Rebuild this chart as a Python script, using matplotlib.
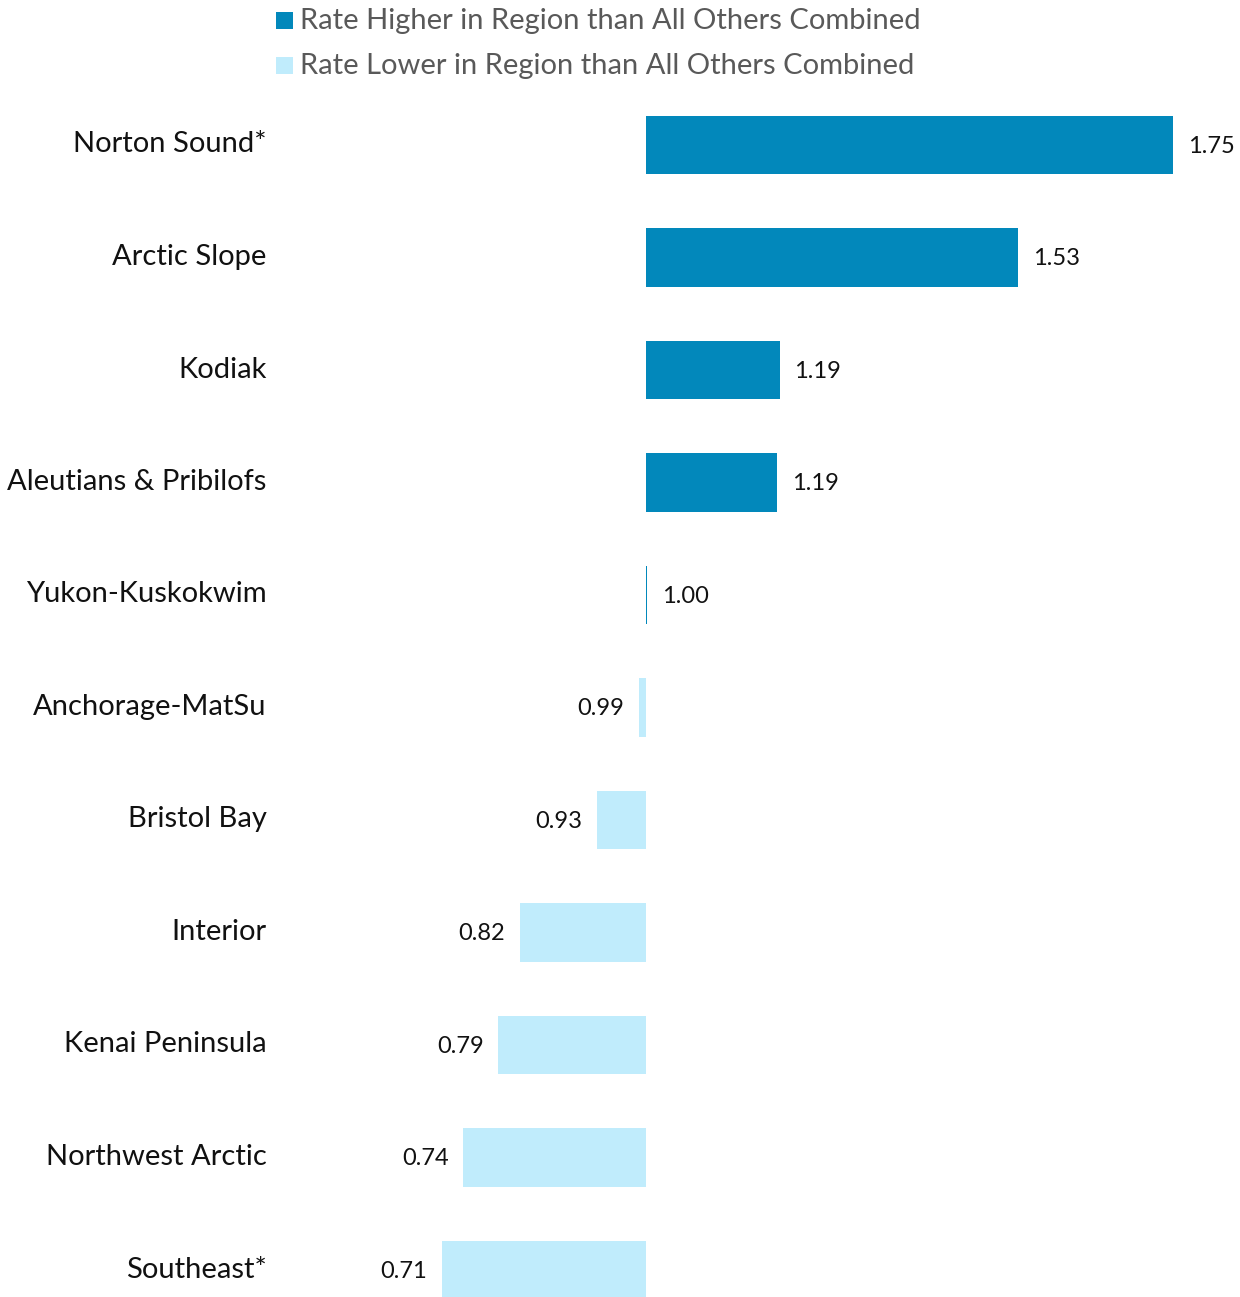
import matplotlib
matplotlib.use("Agg")
import matplotlib.pyplot as plt
import matplotlib.transforms as mtransforms
from matplotlib.patches import Rectangle

regions = ["Norton Sound*", "Arctic Slope", "Kodiak", "Aleutians & Pribilofs",
           "Yukon-Kuskokwim", "Anchorage-MatSu", "Bristol Bay", "Interior",
           "Kenai Peninsula", "Northwest Arctic", "Southeast*"]
values = [1.75, 1.53, 1.19, 1.19, 1.00, 0.99, 0.93, 0.82, 0.79, 0.74, 0.71]
drawn = [1.75, 1.53, 1.19, 1.187, 1.002, 0.99, 0.93, 0.82, 0.79, 0.74, 0.71]
labels = ["1.75", "1.53", "1.19", "1.19", "1.00", "0.99", "0.93", "0.82", "0.79", "0.74", "0.71"]
legend_labels = ["Rate Higher in Region than All Others Combined",
                 "Rate Lower in Region than All Others Combined"]

DARK = "#0288BB"
LIGHT = "#C0ECFC"
FONT = ["Lato", "DejaVu Sans"]

W, H = 1240, 1297
fig = plt.figure(figsize=(W/100, H/100), dpi=100)
top_px = 88.75
ax = fig.add_axes([280/W, 0, 960/W, (H-top_px)/H])

base = 1.0
for i, (v, d, lab) in enumerate(zip(values, drawn, labels)):
    col = DARK if v >= base else LIGHT
    ax.barh(i, d - base, left=base, height=0.516, color=col, linewidth=0)
    if v >= base:
        ax.text(d + 0.021, i + 0.01, lab, ha="left", va="center", fontsize=17,
                family=FONT, color="#111111")
    else:
        ax.text(d - 0.021, i + 0.01, lab, ha="right", va="center", fontsize=17,
                family=FONT, color="#111111")

ax.set_xlim(1.0 - 366/702.7, 1.0 + 594/702.7)
ax.set_ylim((H - 145)/112.5, -0.5)
ax.set_yticks(range(len(regions)))
ax.set_yticklabels(regions, family=FONT, fontsize=21, color="#111111")
ax.tick_params(axis="y", length=0, pad=9.5)
offset = mtransforms.ScaledTranslation(0, 3/100, fig.dpi_scale_trans)
for t in ax.get_yticklabels():
    t.set_transform(t.get_transform() + offset)
ax.set_xticks([])
for s in ax.spines.values():
    s.set_visible(False)

# legend
for k, (lab, col) in enumerate(zip(legend_labels, [DARK, LIGHT])):
    yc = 20 + 45*k
    fig.patches.append(Rectangle((276/W, 1 - (yc + 8.5)/H), 17/W, 17/H,
                                 transform=fig.transFigure, color=col, linewidth=0))
    fig.text(300/W, 1 - (yc + 1)/H, lab, ha="left", va="center",
             fontsize=21, family=FONT, color="#595959")

fig.savefig("out.png", dpi=100)
